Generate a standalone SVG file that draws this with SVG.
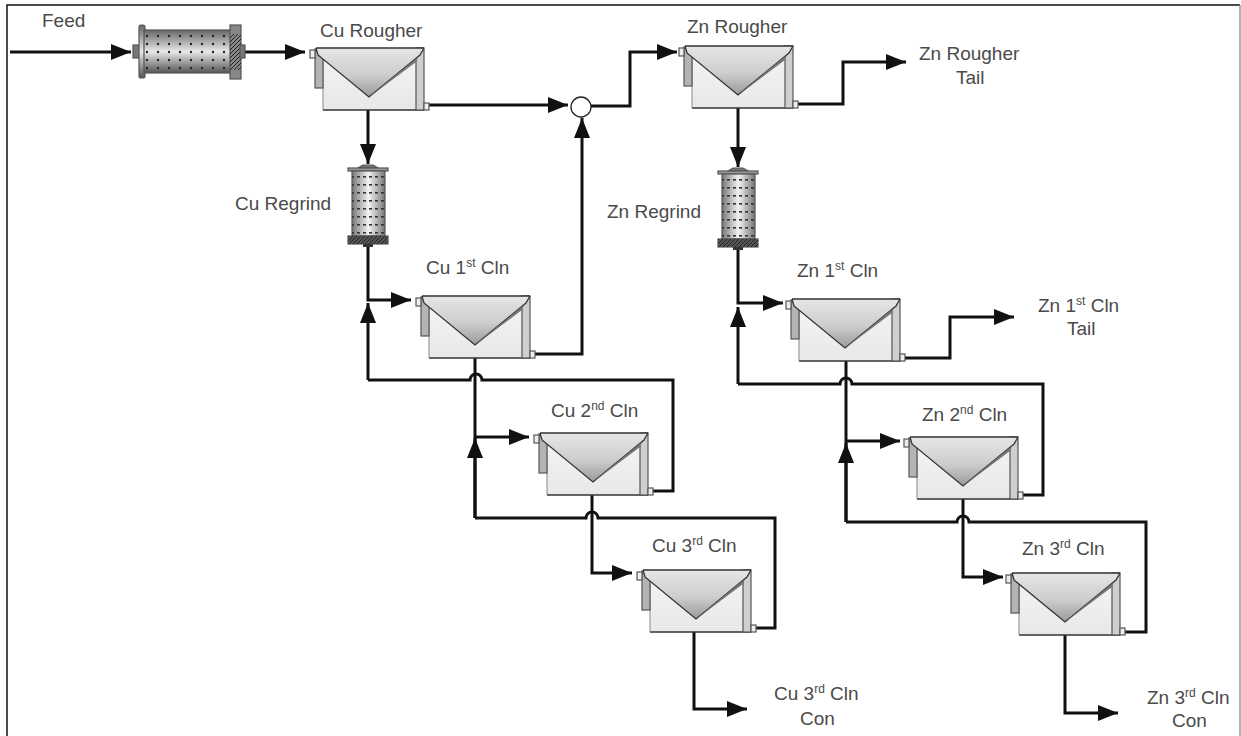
<svg xmlns="http://www.w3.org/2000/svg" width="1241" height="736" viewBox="0 0 1241 736">
<style>
text{font-family:"Liberation Sans",Arial,sans-serif;font-size:19px;fill:#4a4a4a}
.sup{font-size:12px}
.c{fill:none;stroke:#111;stroke-width:3;stroke-linejoin:miter}
.o{stroke:#555;stroke-width:1.2}
</style>
<defs>
<marker id="a" markerUnits="userSpaceOnUse" markerWidth="21" markerHeight="16" refX="20" refY="8" orient="auto"><path d="M0 0L20 8L0 16z" fill="#111"/></marker>
<linearGradient id="v" x1="0" y1="0" x2="0" y2="1"><stop offset="0" stop-color="#666"/><stop offset=".5" stop-color="#e8e8e8"/><stop offset="1" stop-color="#555"/></linearGradient>
<linearGradient id="h" x1="0" y1="0" x2="1" y2="0"><stop offset="0" stop-color="#777"/><stop offset=".5" stop-color="#f2f2f2"/><stop offset="1" stop-color="#777"/></linearGradient>
<linearGradient id="t" x1="0" y1="0" x2="0" y2="1"><stop offset="0" stop-color="#e6e6e6"/><stop offset=".55" stop-color="#cdcdcd"/><stop offset="1" stop-color="#9a9a9a"/></linearGradient>
<linearGradient id="b" x1="0" y1="0" x2="0" y2="1"><stop offset="0" stop-color="#f4f4f4"/><stop offset="1" stop-color="#e8e8e8"/></linearGradient>
<pattern id="d" width="11" height="8" patternUnits="userSpaceOnUse"><circle cx="4" cy="4" r="1.2" fill="#222"/></pattern>
<pattern id="dv" width="6" height="8" patternUnits="userSpaceOnUse"><rect x="1" y="3" width="3" height="1.6" fill="#333"/></pattern>
<pattern id="x" width="4" height="4" patternUnits="userSpaceOnUse"><path d="M0 4L4 0" stroke="#222" stroke-width="1"/></pattern>
<g id="cell">
<rect x="13" y="6" width="101" height="56" fill="url(#b)" stroke="none"/>
<path d="M13 62H114" stroke="#333" stroke-width="1.3"/>
<path d="M13 8V62" stroke="#888" stroke-width="1"/>
<rect x="5" y="1" width="8" height="39" fill="#b4b4b4" class="o"/>
<rect x="0" y="2" width="5" height="8" fill="#eee" class="o"/>
<rect x="106" y="0" width="8" height="62" fill="#cfcfcf" class="o"/>
<rect x="114" y="55" width="5" height="7" fill="#eee" class="o"/>
<path d="M6 0H114L110 7L59 49L8 7z" fill="url(#t)" stroke="none"/>
<path d="M6 0H114M6 0L8 7L59 49L110 7L114 0" fill="none" stroke="#333" stroke-width="1.3"/>
<path d="M62 47L106 14L108 9L60 48z" fill="#777"/>
</g>
<g id="vmill">
<path d="M-10 3L-5 0H5L10 3z" fill="#777" class="o"/>
<rect x="-20" y="3" width="40" height="3" fill="#999" class="o"/>
<rect x="-16" y="6" width="33" height="65" fill="url(#h)" class="o"/>
<rect x="-16" y="6" width="33" height="65" fill="url(#dv)"/>
<rect x="-20" y="71" width="40" height="8" fill="#555" class="o"/>
<rect x="-20" y="71" width="40" height="8" fill="url(#x)"/>
<rect x="-5" y="79" width="10" height="3" fill="#333"/>
</g>
</defs>
<rect width="1241" height="736" fill="#fff"/>
<path d="M7 736V5H1240" fill="none" stroke="#111" stroke-width="1.5"/>
<path d="M1240 5V736" fill="none" stroke="#999" stroke-width="1.5"/>

<g id="connectors">
<path class="c" d="M10 52H131" marker-end="url(#a)"/>
<path class="c" d="M245 52H305" marker-end="url(#a)"/>
<path class="c" d="M429 105H568" marker-end="url(#a)"/>
<path class="c" d="M591 106H630V52H677" marker-end="url(#a)"/>
<path class="c" d="M368 97V164" marker-end="url(#a)"/>
<path class="c" d="M368 245V300H411" marker-end="url(#a)"/>
<path class="c" d="M368 380V303" marker-end="url(#a)"/>
<path class="c" d="M368 380H470A6 6 0 0 1 482 380H673V491H650"/>
<path class="c" d="M534 354H582V118" marker-end="url(#a)"/>
<path class="c" d="M475 347V518"/>
<path class="c" d="M475 437H529" marker-end="url(#a)"/>
<path class="c" d="M475 518V438" marker-end="url(#a)"/>
<path class="c" d="M475 518H586A6 6 0 0 1 598 518H775V628H752"/>
<path class="c" d="M592 482V573H632" marker-end="url(#a)"/>
<path class="c" d="M694 620V709H747" marker-end="url(#a)"/>
<path class="c" d="M738 96V167" marker-end="url(#a)"/>
<path class="c" d="M797 104H843V62H906" marker-end="url(#a)"/>
<path class="c" d="M738 248V303H783" marker-end="url(#a)"/>
<path class="c" d="M738 384V307" marker-end="url(#a)"/>
<path class="c" d="M738 384H840A6 6 0 0 1 852 384H1043V495H1022"/>
<path class="c" d="M904 358H950V317H1014" marker-end="url(#a)"/>
<path class="c" d="M846 350V522"/>
<path class="c" d="M846 441H900" marker-end="url(#a)"/>
<path class="c" d="M846 522V443" marker-end="url(#a)"/>
<path class="c" d="M846 522H957A6 6 0 0 1 969 522H1146V632H1122"/>
<path class="c" d="M963 487V577H1003" marker-end="url(#a)"/>
<path class="c" d="M1065 624V713H1118" marker-end="url(#a)"/>
</g>

<g id="feed"><text x="42" y="27">Feed</text></g>
<g id="ball-mill">
<rect x="133" y="45" width="7" height="13" fill="#777" class="o"/>
<rect x="139" y="25" width="6" height="53" rx="2" fill="url(#v)" class="o"/>
<rect x="144" y="30" width="87" height="43" fill="url(#v)" class="o"/>
<rect x="144" y="30" width="87" height="43" fill="url(#d)"/>
<rect x="230" y="25" width="11" height="54" fill="#888" class="o"/>
<rect x="230" y="34" width="11" height="36" fill="url(#x)"/>
<rect x="240" y="45" width="5" height="13" fill="#777" class="o"/>
</g>
<g id="cu-rougher"><use href="#cell" x="310" y="48"/><text x="320" y="37">Cu Rougher</text></g>
<g id="mixer"><circle cx="581" cy="107" r="10" fill="#fff" stroke="#222" stroke-width="1.3"/></g>
<g id="zn-rougher"><use href="#cell" x="679" y="46"/><text x="687" y="33">Zn Rougher</text></g>
<g id="zn-rougher-tail"><text x="919" y="60">Zn Rougher</text><text x="956" y="84">Tail</text></g>
<g id="cu-regrind"><use href="#vmill" x="368" y="165"/><text x="235" y="210">Cu Regrind</text></g>
<g id="zn-regrind"><use href="#vmill" x="738" y="168"/><text x="607" y="218">Zn Regrind</text></g>
<g id="cu-1-cln"><use href="#cell" x="416" y="296"/><text x="426" y="274">Cu 1<tspan class="sup" dy="-7">st</tspan><tspan dy="7"> Cln</tspan></text></g>
<g id="cu-2-cln"><use href="#cell" x="534" y="433"/><text x="551" y="417">Cu 2<tspan class="sup" dy="-7">nd</tspan><tspan dy="7"> Cln</tspan></text></g>
<g id="cu-3-cln"><use href="#cell" x="637" y="570"/><text x="652" y="552">Cu 3<tspan class="sup" dy="-7">rd</tspan><tspan dy="7"> Cln</tspan></text></g>
<g id="cu-3-con"><text x="774" y="700">Cu 3<tspan class="sup" dy="-7">rd</tspan><tspan dy="7"> Cln</tspan></text><text x="800" y="725">Con</text></g>
<g id="zn-1-cln"><use href="#cell" x="786" y="299"/><text x="797" y="277">Zn 1<tspan class="sup" dy="-7">st</tspan><tspan dy="7"> Cln</tspan></text></g>
<g id="zn-1-tail"><text x="1038" y="312">Zn 1<tspan class="sup" dy="-7">st</tspan><tspan dy="7"> Cln</tspan></text><text x="1067" y="335">Tail</text></g>
<g id="zn-2-cln"><use href="#cell" x="904" y="437"/><text x="922" y="421">Zn 2<tspan class="sup" dy="-7">nd</tspan><tspan dy="7"> Cln</tspan></text></g>
<g id="zn-3-cln"><use href="#cell" x="1006" y="573"/><text x="1022" y="555">Zn 3<tspan class="sup" dy="-7">rd</tspan><tspan dy="7"> Cln</tspan></text></g>
<g id="zn-3-con"><text x="1147" y="704">Zn 3<tspan class="sup" dy="-7">rd</tspan><tspan dy="7"> Cln</tspan></text><text x="1172" y="727">Con</text></g>
</svg>
